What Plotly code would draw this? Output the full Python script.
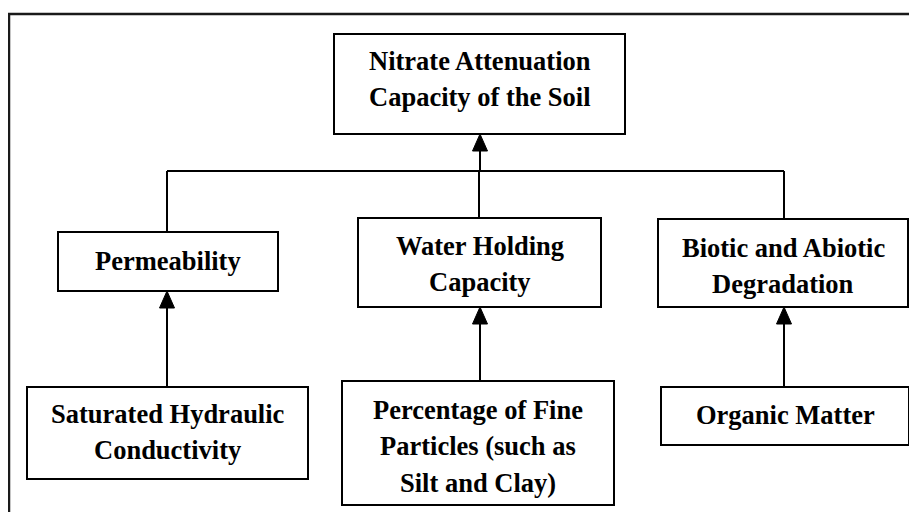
import plotly.graph_objects as go

# ---- data: node labels and the edges between them ----
labels = [
    "Nitrate Attenuation<br>Capacity of the Soil",
    "Permeability",
    "Water Holding<br>Capacity",
    "Biotic and Abiotic<br>Degradation",
    "Saturated Hydraulic<br>Conductivity",
    "Percentage of Fine<br>Particles (such as<br>Silt and Clay)",
    "Organic Matter",
]
# child -> parent
edges_lower = [(4, 1), (5, 2), (6, 3)]
edges_upper = [1, 2, 3]  # all feed into node 0

# ---- layout (pixel boxes: x0, y0, x1, y1) ----
boxes = [
    (334, 34, 625, 134),
    (58, 232, 278, 291),
    (358, 218, 601, 307),
    (658, 219, 908, 307),
    (27, 387, 308, 479),
    (342, 381, 614, 505),
    (661, 387, 909, 445),
]
text_y = [79, 261, 264, 266, 432, 446, 415]
line_gap = 36.5
branch_x = [167, 479, 784]
bus_y = 171
W, H = 917, 512
OFF = 8  # page body margin
LC = "#000000"
FONT = "Liberation Serif, Times New Roman, serif"

shapes = []
annotations = []

# outer frame (extends past the image right/bottom)
shapes.append(dict(type="rect", x0=9, y0=14, x1=940, y1=540,
                   line=dict(color="#1a1a1a", width=2.5), fillcolor="rgba(0,0,0,0)"))

for i, (x0, y0, x1, y1) in enumerate(boxes):
    shapes.append(dict(type="rect", x0=x0, y0=y0, x1=x1, y1=y1,
                       line=dict(color=LC, width=2), fillcolor="white", layer="above"))
    parts = labels[i].split("<br>")
    n = len(parts)
    for j, part in enumerate(parts):
        yy = text_y[i] + (j - (n - 1) / 2) * line_gap
        annotations.append(dict(x=(x0 + x1) / 2, y=yy, xref="x", yref="y",
                                text="<b>" + part + "</b>", showarrow=False,
                                font=dict(family=FONT, size=26.5, color="black"),
                                xanchor="center", yanchor="middle", align="center"))


def arrow_up(x, y_from, y_tip):
    shapes.append(dict(type="line", x0=x, y0=y_from, x1=x, y1=y_tip + 14,
                       line=dict(color=LC, width=2)))
    shapes.append(dict(type="path",
                       path=f"M {x-7.5},{y_tip+17} L {x+7.5},{y_tip+17} L {x},{y_tip} Z",
                       fillcolor=LC, line=dict(color=LC, width=1)))


# bus line connecting the three middle nodes
shapes.append(dict(type="line", x0=branch_x[0], y0=bus_y, x1=branch_x[2], y1=bus_y,
                   line=dict(color=LC, width=2)))
for k, n in enumerate(edges_upper):
    shapes.append(dict(type="line", x0=branch_x[k], y0=bus_y, x1=branch_x[k], y1=boxes[n][1],
                       line=dict(color=LC, width=2)))
# arrow up to the top node
arrow_up(480, bus_y, boxes[0][3])

# lower arrows
for k, (c, p) in enumerate(edges_lower):
    arrow_up(branch_x[k] + (1 if k == 1 else 0), boxes[c][1], boxes[p][3])

fig = go.Figure()
fig.add_trace(go.Scatter(x=[OFF, W + OFF], y=[OFF, H + OFF], mode="markers",
                         marker=dict(opacity=0), hoverinfo="skip", showlegend=False))
fig.update_layout(
    width=W, height=H, margin=dict(l=0, r=0, t=0, b=0),
    plot_bgcolor="white", paper_bgcolor="white",
    xaxis=dict(range=[OFF, W + OFF], visible=False, fixedrange=True),
    yaxis=dict(range=[H + OFF, OFF], visible=False, fixedrange=True),
    shapes=shapes, annotations=annotations, showlegend=False,
)
fig.write_html("out.html")
